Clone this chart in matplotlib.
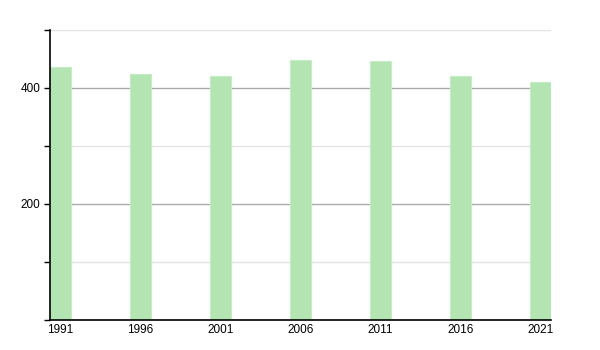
import matplotlib
matplotlib.use("Agg")
import matplotlib.pyplot as plt
from matplotlib.ticker import MultipleLocator, FuncFormatter

plt.rcParams['font.family'] = ['Liberation Sans', 'DejaVu Sans']

# dati
years = ["1991", "1996", "2001", "2006", "2011", "2016", "2021"]
values = [436, 424, 421, 448, 447, 421, 410]

bar_w = 0.2625
x = list(range(len(years)))

fig = plt.figure(figsize=(6, 3.5), dpi=100)
ax = fig.add_axes([50 / 600, 30 / 350, 501 / 600, 290 / 350])

ax.bar(x, values, width=bar_w, color="#b2e5b2", edgecolor="#c6ecc6", linewidth=0.8, zorder=2)

ax.set_xlim(-bar_w / 2, len(years) - 1 + bar_w / 2)
ax.set_ylim(0, 500)

ax.yaxis.set_major_locator(MultipleLocator(200))
ax.yaxis.set_minor_locator(MultipleLocator(100))
# niente etichetta per lo zero
ax.yaxis.set_major_formatter(FuncFormatter(lambda v, p: "" if v == 0 else f"{v:.0f}"))
ax.grid(axis="y", which="major", color="#aaaaaa", linewidth=1, zorder=1)
ax.grid(axis="y", which="minor", color="#e3e3e3", linewidth=1, zorder=1)

ax.set_xticks(x)
ax.set_xticklabels(years)
ax.tick_params(axis="x", length=0, pad=3, labelsize=8.5)
ax.tick_params(axis="y", which="major", length=4, width=1, labelsize=8.5, pad=3)
ax.tick_params(axis="y", which="minor", length=4, width=1)

for s in ["top", "right"]:
    ax.spines[s].set_visible(False)
ax.spines["left"].set_linewidth(1.2)
ax.spines["bottom"].set_linewidth(1.2)
ax.spines["left"].set_zorder(3)
ax.spines["bottom"].set_zorder(3)

fig.savefig("out.png", dpi=100)
